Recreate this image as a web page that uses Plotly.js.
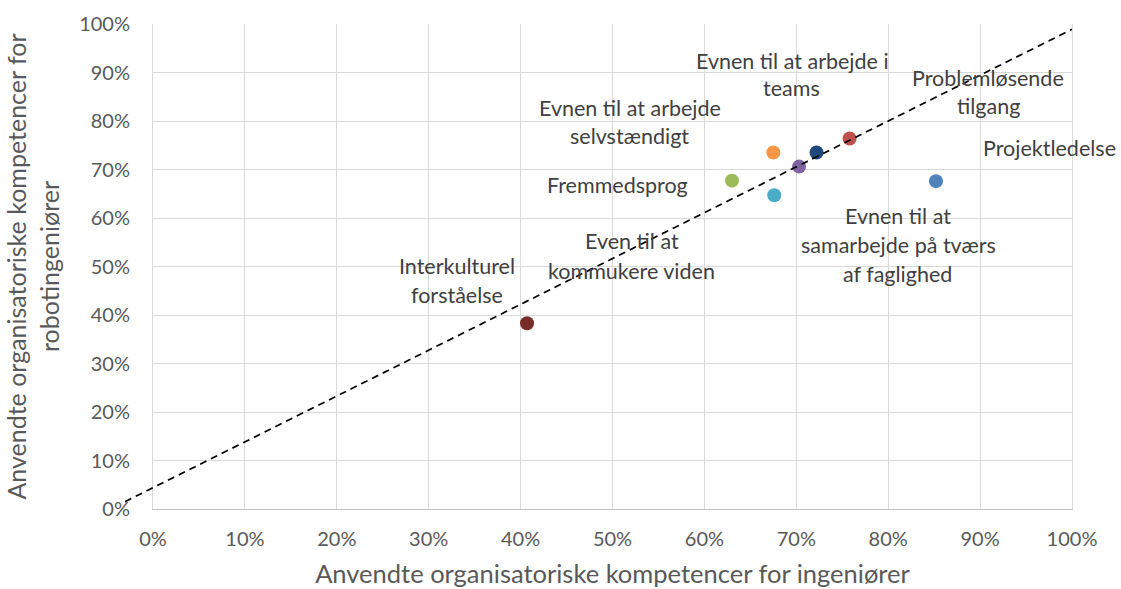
<!DOCTYPE html>
<html>
<head>
<meta charset="utf-8">
<script src="https://cdn.plot.ly/plotly-3.0.1.min.js"></script>
<style>html,body{margin:0;padding:0;background:#fff;}#chart{width:1121px;height:589px;}</style>
</head>
<body>
<div id="chart"></div>
<script>
// ---- data ----
const categories = [
  "Interkulturel forståelse",
  "Fremmedsprog",
  "Evnen til at arbejde selvstændigt",
  "Even til at kommukere viden",
  "Evnen til at samarbejde på tværs af faglighed",
  "Evnen til at arbejde i teams",
  "Problemløsende tilgang",
  "Projektledelse"
];
const engineers = [0.407, 0.630, 0.675, 0.676, 0.703, 0.722, 0.758, 0.852];
const robotEngineers = [0.383, 0.677, 0.735, 0.647, 0.706, 0.735, 0.764, 0.676];
const labelLines = [
  ["Interkulturel", "forståelse"],
  ["Fremmedsprog"],
  ["Evnen til at arbejde", "selvstændigt"],
  ["Even til at", "kommukere viden"],
  ["Evnen til at", "samarbejde på tværs", "af faglighed"],
  ["Evnen til at arbejde i", "teams"],
  ["Problemløsende", "tilgang"],
  ["Projektledelse"]
];
const refLineX = [-0.0305, 1.0];
const refLineY = [0.0151, 0.989];
const tickValues = [0, 0.1, 0.2, 0.3, 0.4, 0.5, 0.6, 0.7, 0.8, 0.9, 1.0];
const xTitle = "Anvendte organisatoriske kompetencer for ingeniører";
const yTitle = "Anvendte organisatoriske kompetencer for<br>robotingeniører";

// ---- styles / positions ----
const pointColors = ["#772C2A", "#9BBB59", "#F79646", "#4BACC6", "#8064A2", "#1F497D", "#C0504D", "#4F81BD"];
// label line anchor positions (data coords), one per line
const labelPos = [
  [[0.3308, 0.501], [0.3303, 0.4412]],
  [[0.505, 0.668]],
  [[0.519, 0.827], [0.519, 0.769]],
  [[0.5207, 0.5526], [0.5207, 0.4907]],
  [[0.8107, 0.6041], [0.8107, 0.5443], [0.8096, 0.4845]],
  [[0.696, 0.924], [0.695, 0.868]],
  [[0.9086, 0.8887], [0.9086, 0.831]],
  [[0.975, 0.744]]
];

const FONT = "Lato, 'Open Sans', sans-serif";

const annotations = [];
labelLines.forEach((lines, i) => {
  lines.forEach((line, j) => {
    annotations.push({
      x: labelPos[i][j][0], y: labelPos[i][j][1], xref: "x", yref: "y",
      text: line, showarrow: false, xanchor: "center", yanchor: "middle",
      font: {family: FONT, size: 21.5, color: "#404040"}
    });
  });
});

const traces = [
  {
    type: "scatter", mode: "lines", x: refLineX, y: refLineY,
    xaxis: "x2", yaxis: "y2",
    line: {color: "#000000", width: 1.7, dash: "7px,5px"},
    hoverinfo: "skip"
  },
  {
    type: "scatter", mode: "markers", x: engineers, y: robotEngineers,
    text: categories,
    marker: {size: 14, color: pointColors},
    cliponaxis: false
  }
];

const L = 120, R = 49, W = 1121 - L - R;
const layout = {
  width: 1121, height: 589,
  margin: {l: L, r: R, t: 24, b: 80, pad: 0},
  paper_bgcolor: "#ffffff", plot_bgcolor: "rgba(0,0,0,0)",
  showlegend: false,
  font: {family: FONT, color: "#595959"},
  xaxis: {
    domain: [(153 - L) / W, 1], range: [0, 1], anchor: "y",
    tickvals: tickValues, tickformat: ".0%",
    showgrid: true, gridcolor: "#d9d9d9", gridwidth: 1,
    zeroline: false, showline: true, linecolor: "#bfbfbf", linewidth: 1,
    ticks: "", ticklabelstandoff: 12,
    tickfont: {family: FONT, size: 20, color: "#595959"},
    title: {text: xTitle, font: {family: FONT, size: 25.5, color: "#595959"}, standoff: 16},
    automargin: false, fixedrange: true
  },
  yaxis: {
    domain: [0, 1], range: [0, 1], anchor: "x",
    tickvals: tickValues, tickformat: ".0%",
    showgrid: true, gridcolor: "#d9d9d9", gridwidth: 1,
    zeroline: false, showline: true, linecolor: "#d9d9d9", linewidth: 1,
    mirror: true,
    ticks: "", ticklabelstandoff: 18,
    tickfont: {family: FONT, size: 20, color: "#595959"},
    title: {text: yTitle, font: {family: FONT, size: 25, color: "#595959"}, standoff: 12},
    automargin: false, fixedrange: true
  },
  xaxis2: {domain: [(125 - L) / W, 1], range: [refLineX[0], 1], anchor: "y2", visible: false, fixedrange: true},
  yaxis2: {domain: [0, 1], range: [0, 1], anchor: "x2", visible: false, fixedrange: true},
  annotations: annotations
};

Plotly.newPlot("chart", traces, layout, {displayModeBar: false, staticPlot: true});
</script>
</body>
</html>
